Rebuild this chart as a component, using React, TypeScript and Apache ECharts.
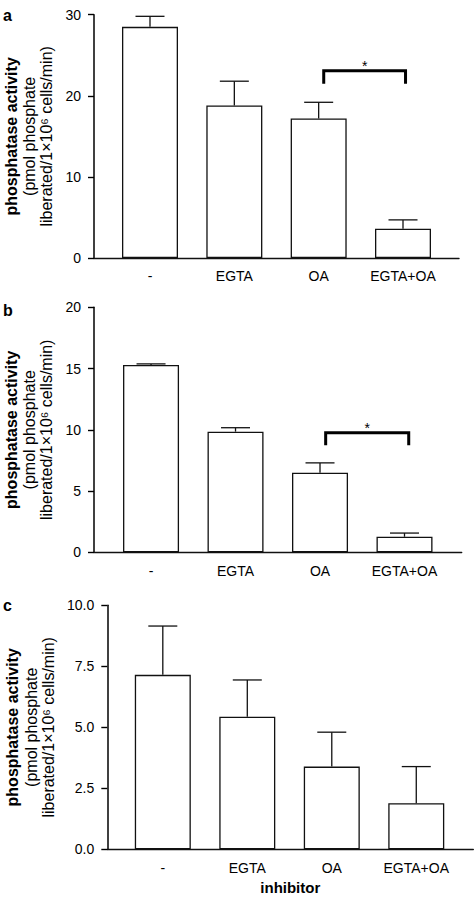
import React, { useEffect, useRef } from "react";
import * as echarts from "echarts";

// ---- data ----
const categories = ["-", "EGTA", "OA", "EGTA+OA"];

const valuesA = [28.5, 18.8, 17.2, 3.6];
const errorsA = [1.3, 3.0, 2.0, 1.1];

const valuesB = [15.3, 9.85, 6.5, 1.27];
const errorsB = [0.08, 0.32, 0.8, 0.3];

const valuesC = [7.15, 5.43, 3.39, 1.89];
const errorsC = [2.0, 1.51, 1.41, 1.5];

const yMaxA = 30, yStepA = 10;
const yMaxB = 20, yStepB = 5;
const yMaxC = 10, yStepC = 2.5;

// significance brackets: [from category, to category, bracket top, legs bottom]
const bracketA = [2.06, 3.03, 23.1, 21.5];
const bracketB = [2.067, 3.05, 9.76, 8.73];

const panelLetters = ["a", "b", "c"];
const titleLine1 = "phosphatase activity";
const titleLine2 = "(pmol phosphate";
const titleLine3 = "liberated/1×10⁶ cells/min)";
const xAxisTitle = "inhibitor";

const FONT = "'Liberation Sans', Arial, Helvetica, sans-serif";
const INK = "#111";

export default function App() {
  const ref = useRef<HTMLDivElement>(null);

  useEffect(() => {
    if (!ref.current) return;
    const chart = echarts.init(ref.current, null, { renderer: "svg" });

    const panels = [
      { values: valuesA, errors: errorsA, yMax: yMaxA, yStep: yStepA, left: 94, top: 14.7, width: 365, height: 243.3, xMin: -0.664, xMax: 3.664, labelMargin: 11, dec: 0, letterY: 15 },
      { values: valuesB, errors: errorsB, yMax: yMaxB, yStep: yStepB, left: 94, top: 307.3, width: 367.7, height: 245, xMin: -0.675, xMax: 3.677, labelMargin: 11.5, dec: 0, letterY: 310 },
      { values: valuesC, errors: errorsC, yMax: yMaxC, yStep: yStepC, left: 107.3, top: 605.3, width: 366, height: 244, xMin: -0.657, xMax: 3.675, labelMargin: 12, dec: 1, letterY: 605 },
    ];

    const grid = panels.map((p) => ({ left: p.left, top: p.top, width: p.width, height: p.height, containLabel: false, outerBoundsMode: "none" }));

    const xAxis = panels.map((p, i) => ({
      gridIndex: i,
      type: "value",
      position: "bottom",
      min: p.xMin,
      max: p.xMax,
      axisLine: { show: true, onZero: false, lineStyle: { color: INK, width: 1.4 } },
      axisTick: { show: false },
      splitLine: { show: false },
      axisLabel: {
        customValues: [0, 1, 2, 3],
        formatter: (v: number) => categories[Math.round(v)],
        margin: p.labelMargin,
        fontSize: 14,
        color: "#000",
        fontFamily: FONT,
      },
      ...(i === 2
        ? {
            name: xAxisTitle,
            nameLocation: "middle",
            nameGap: 31,
            nameTextStyle: { fontSize: 15, fontWeight: "bold", color: "#000", fontFamily: FONT },
          }
        : {}),
    }));

    const yAxis = panels.map((p, i) => ({
      gridIndex: i,
      type: "value",
      position: "left",
      min: 0,
      max: p.yMax,
      interval: p.yStep,
      axisLine: { show: true, onZero: false, lineStyle: { color: "#000", width: 1.5 } },
      axisTick: { show: true, length: 6, lineStyle: { color: "#000", width: 1.4 } },
      splitLine: { show: false },
      axisLabel: {
        margin: 13,
        fontSize: 14,
        color: "#000",
        fontFamily: FONT,
        formatter: (v: number) => v.toFixed(p.dec),
      },
      name: `{b|${titleLine1}}\n{n|${titleLine2}}\n{n|${titleLine3}}`,
      nameLocation: "middle",
      nameRotate: 90,
      nameGap: p.left - 60.5,
      nameTextStyle: {
        align: "center",
        rich: {
          b: { fontSize: 16, fontWeight: "bold", fontFamily: FONT, color: "#000", lineHeight: 20 },
          n: { fontSize: 16, fontFamily: FONT, color: "#000", lineHeight: 17 },
        },
      },
    }));

    const errorRender = (params: any, api: any) => {
      const x = api.value(0);
      const v = api.value(1);
      const e = api.value(2);
      const p0 = api.coord([x, v]);
      const p1 = api.coord([x, v + e]);
      const style = { stroke: INK, lineWidth: 1.3 };
      return {
        type: "group",
        children: [
          { type: "line", shape: { x1: p0[0], y1: p0[1], x2: p1[0], y2: p1[1] }, style },
          { type: "line", shape: { x1: p1[0] - 14.5, y1: p1[1], x2: p1[0] + 14.5, y2: p1[1] }, style },
        ],
      };
    };

    const bracketRender = (params: any, api: any) => {
      const x1 = api.value(0);
      const x2 = api.value(1);
      const top = api.value(2);
      const leg = api.value(3);
      const a = api.coord([x1, top]);
      const b = api.coord([x2, top]);
      const c = api.coord([x1, leg]);
      return {
        type: "group",
        children: [
          {
            type: "polyline",
            shape: { points: [[a[0], c[1]], [a[0], a[1]], [b[0], b[1]], [b[0], c[1]]] },
            style: { stroke: "#000", lineWidth: 3, fill: "none" },
          },
          {
            type: "text",
            x: (a[0] + b[0]) / 2,
            y: a[1] - 5,
            style: { text: "*", fontSize: 14, fontFamily: FONT, fill: "#000", align: "center", verticalAlign: "middle" },
          },
        ],
      };
    };

    const series: any[] = [];
    panels.forEach((p, i) => {
      series.push({
        type: "bar",
        xAxisIndex: i,
        yAxisIndex: i,
        data: p.values.map((v, j) => [j, v]),
        barWidth: 56,
        itemStyle: { color: "#fff", borderColor: INK, borderWidth: 1.3 },
        silent: true,
      });
      series.push({
        type: "custom",
        xAxisIndex: i,
        yAxisIndex: i,
        data: p.values.map((v, j) => [j, v, p.errors[j]]),
        renderItem: errorRender,
        silent: true,
        z: 3,
      });
    });
    [bracketA, bracketB].forEach((br, i) => {
      series.push({
        type: "custom",
        xAxisIndex: i,
        yAxisIndex: i,
        data: [br],
        renderItem: bracketRender,
        silent: true,
        z: 4,
      });
    });

    const graphic: any[] = panels.map((p, i) => ({
      type: "text",
      x: 3,
      y: p.letterY,
      style: { text: panelLetters[i], fontSize: 16, fontWeight: "bold", fontFamily: FONT, fill: "#000", align: "left", verticalAlign: "middle" },
    }));

    chart.setOption({
      animation: false,
      backgroundColor: "#fff",
      grid,
      xAxis,
      yAxis,
      series,
      graphic,
    } as any);

    return () => chart.dispose();
  }, []);

  return <div ref={ref} style={{ position: "absolute", left: 0, top: 0, width: 476, height: 898 }} />;
}
